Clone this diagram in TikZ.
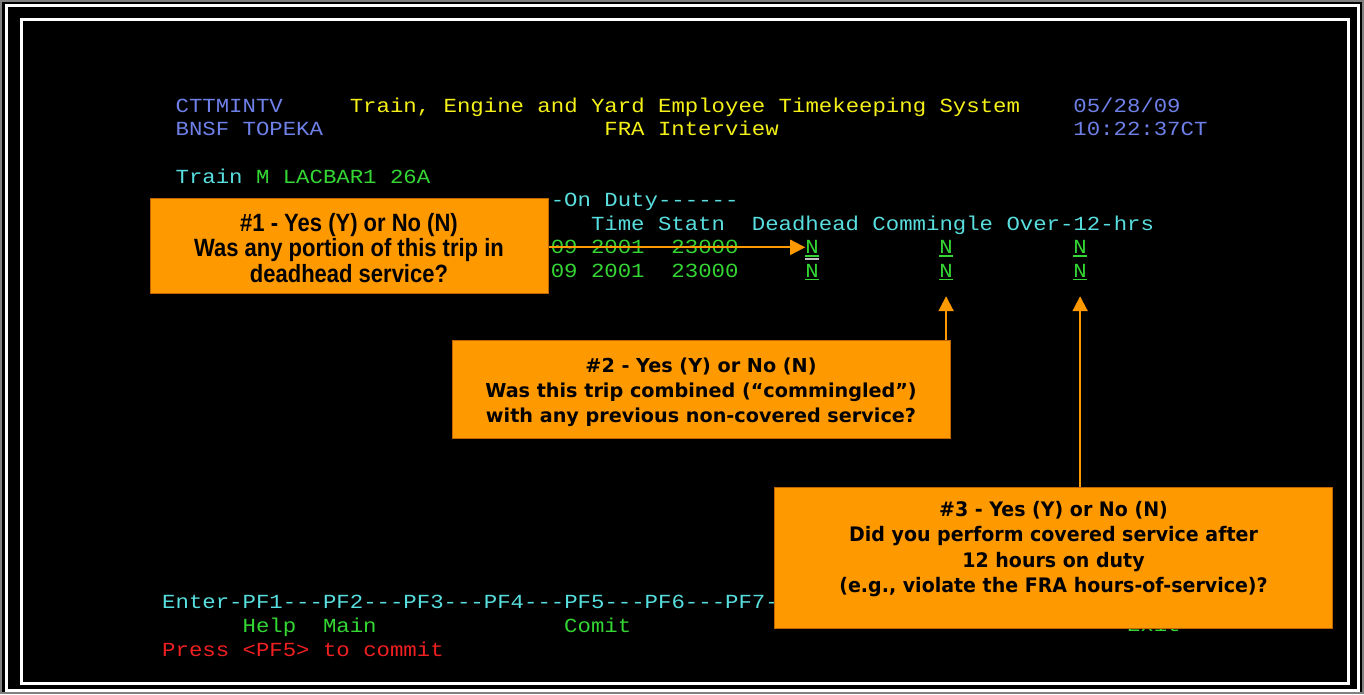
\documentclass[tikz,border=0pt]{standalone}
\usepackage{fontspec}
\usetikzlibrary{arrows.meta}
\setmainfont{Liberation Sans}
\newfontfamily\termfont{Liberation Mono}[Ligatures=TeXOff, FakeStretch=1.117]
\newfontfamily\narrowfont{Liberation Sans}[FakeStretch=0.88]
\newfontfamily\calloutfont{DejaVu Sans}
\newfontfamily\calloutnarrow{DejaVu Sans}[FakeStretch=0.95]
\definecolor{scrblue}{RGB}{110,128,232}
\definecolor{scryellow}{RGB}{244,240,24}
\definecolor{scrcyan}{RGB}{88,222,222}
\definecolor{scrgreen}{RGB}{52,214,52}
\definecolor{scrred}{RGB}{240,32,32}
\definecolor{callout}{RGB}{255,153,0}
\definecolor{calloutedge}{RGB}{190,100,0}
\tikzset{term/.style={anchor=base west, inner sep=0pt, font=\termfont\fontsize{20}{24}\selectfont},
         qbox/.style={fill=callout, draw=calloutedge, line width=1pt, inner sep=0pt},
         qtext/.style={align=center, inner sep=0pt, text=black},
         pointer/.style={draw=callout, line width=2pt, -{Triangle[width=15pt,length=15pt]}},
         uline/.style={draw=scrgreen, line width=1.5pt}}
\begin{document}
\begin{tikzpicture}[x=1pt, y=-1pt]
  \useasboundingbox (0,0) rectangle (1364,694);
  \fill[black] (0,0) rectangle (1364,694);
  \draw[gray, line width=2pt] (1,1) rectangle (1363,693);
  \draw[white, line width=3pt] (6,5) rectangle (1358,690);
  \draw[white, line width=3pt] (21,19) rectangle (1348,683);
  % screen header
  \node[term, text=scrblue] (prog) at (175.4,112) {CTTMINTV};
  \node[term, text=scryellow] (title) at (349.6,112) {Train, Engine and Yard Employee Timekeeping System};
  \node[term, text=scrblue] (date) at (1073.2,112) {05/28/09};
  \node[term, text=scrblue] (site) at (175.4,135.6) {BNSF TOPEKA};
  \node[term, text=scryellow] (screen) at (604.2,135.6) {FRA Interview};
  \node[term, text=scrblue] (clock) at (1073.2,135.6) {10:22:37CT};
  \node[term, text=scrcyan] (trainlbl) at (175.4,183) {Train};
  \node[term, text=scrgreen] (trainid) at (255.8,183) {M LACBAR1 26A};
  % trip rows
  \node[term, text=scrcyan] (onduty) at (550.6,206.6) {-On Duty------};
  \node[term, text=scrcyan] (header) at (590.8,230.2) {Time Statn~~Deadhead Commingle Over-12-hrs};
  \node[term, text=scrgreen] (tripa) at (550.6,253.9) {09 2001~~23000};
  \node[term, text=scrgreen] (tripb) at (550.6,277.5) {09 2001~~23000};
  \node[term, text=scrgreen] (dhA) at (805.2,253.9) {N};
  \node[term, text=scrgreen] (cmA) at (939.2,253.9) {N};
  \node[term, text=scrgreen] (otA) at (1073.2,253.9) {N};
  \node[term, text=scrgreen] (dhB) at (805.2,277.5) {N};
  \node[term, text=scrgreen] (cmB) at (939.2,277.5) {N};
  \node[term, text=scrgreen] (otB) at (1073.2,277.5) {N};
  \fill[lightgray] ([yshift=-4pt]dhA.base west) rectangle ([yshift=-6.5pt]dhA.base east);
  \foreach \fld in {dhA,cmA,otA,dhB,cmB,otB}
    \draw[uline] ([yshift=-2pt]\fld.base west) -- ([yshift=-2pt]\fld.base east);
  % function keys
  \node[term, text=scrcyan] (keys) at (162,608.7) {Enter-PF1---PF2---PF3---PF4---PF5---PF6---PF7-};
  \node[term, text=scrgreen] (help) at (242.4,632.3) {Help};
  \node[term, text=scrgreen] (main) at (322.8,632.3) {Main};
  \node[term, text=scrgreen] (commit) at (564,632.3) {Comit};
  \node[term, text=scrgreen] (exit) at (1126.8,631.3) {Exit};
  \node[term, text=scrred] (msg) at (162,656) {Press <PF5> to commit};
  % callouts
  \node[qbox, minimum width=398pt, minimum height=95pt] (box1) at (349,245.5) {};
  \node[qtext, font=\narrowfont\bfseries\fontsize{25}{25.5}\selectfont] (q1) at (349,248)
    {\#1 - Yes (Y) or No (N)\\Was any portion of this trip in\\deadhead service?};
  \node[qbox, minimum width=498pt, minimum height=98pt] (box2) at (701,389) {};
  \node[qtext, font=\calloutfont\bfseries\fontsize{19.2}{25}\selectfont] (q2) at (701,392)
    {\#2 - Yes (Y) or No (N)\\Was this trip combined (“commingled”)\\with any previous non-covered service?};
  \node[qbox, minimum width=558pt, minimum height=141pt] (box3) at (1053,557.5) {};
  \node[qtext, font=\calloutnarrow\bfseries\fontsize{20}{25.3}\selectfont] (q3) at (1053.5,549)
    {\#3 - Yes (Y) or No (N)\\Did you perform covered service after\\12 hours on duty\\(e.g., violate the FRA hours-of-service)?};
  \draw[pointer] (box1.east |- dhA) -- (dhA.west);
  \draw[pointer, shorten >=18.5pt] (box2.north -| cmB) -- (cmB.south);
  \draw[pointer, shorten >=18.5pt] (box3.north -| otB) -- (otB.south);
\end{tikzpicture}
\end{document}
